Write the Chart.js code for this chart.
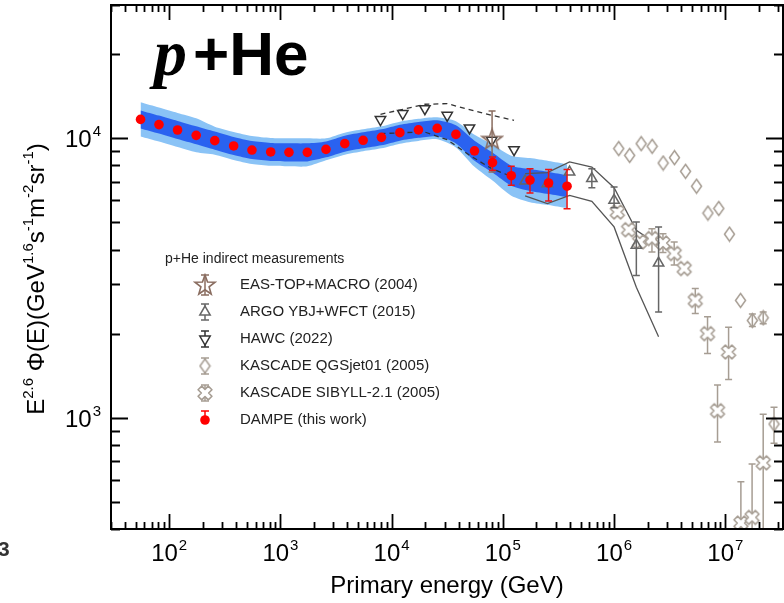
<!DOCTYPE html>
<html>
<head>
<meta charset="utf-8">
<script src="https://cdn.jsdelivr.net/npm/chart.js@4.4.1/dist/chart.umd.min.js"></script>
<style>
  html, body { margin: 0; padding: 0; background: #fff; }
  #wrap { width: 784px; height: 603px; position: relative; }
</style>
</head>
<body>
<div id="wrap"><canvas id="fluxChart"></canvas></div>
<script>
// DAMPE p+He flux (E^2.6 weighted), with statistical bars on the last bins
const dampeEnergy = [55.3, 81, 119, 175, 257, 380, 555, 818, 1194, 1746, 2570, 3792, 5546, 8097,
  11860, 17420, 25700, 37840, 55600, 80700, 119000, 175400, 257700, 377600];
const dampeFlux = [11690, 11200, 10710, 10250, 9810, 9390, 9080, 8940, 8910, 8910, 9130, 9570, 9840, 10080,
  10480, 10720, 10860, 10330, 9020, 8190, 7350, 7090, 6920, 6740];
const dampeErrLow = [null, null, null, null, null, null, null, null, null, null, null, null, null, null,
  null, null, null, null, null, 7685, 6790, 6370, 5970, 5600];
const dampeErrHigh = [null, null, null, null, null, null, null, null, null, null, null, null, null, null,
  null, null, null, null, null, 8570, 7940, 7790, 7730, 7730];

// systematic bands (inner = dark, outer = light)
const bandInnerLow = [10850, 10400, 9940, 9520, 9110, 8720, 8430, 8300, 8270, 8270, 8550, 8960, 9210, 9440,
  9810, 10040, 10170, 9590, 8310, 7540, 6770, 6480, 6320, 6160];
const bandInnerHigh = [12590, 12060, 11540, 11040, 10570, 10110, 9780, 9630, 9600, 9600, 9750, 10220, 10510, 10770,
  11190, 11450, 11600, 11130, 9800, 8890, 7980, 7760, 7580, 7380];
const bandOuterLow = [10160, 9740, 9310, 8910, 8740, 8370, 8090, 7970, 7940, 7940, 8340, 8740, 8990, 9210,
  9570, 9790, 9920, 9280, 7910, 7060, 6230, 5910, 5770, 5620];
const bandOuterHigh = [13450, 12880, 12320, 11790, 11010, 10540, 10190, 10030, 10000, 10000, 10000, 10480, 10770, 11040,
  11470, 11740, 11890, 11500, 10290, 9500, 8670, 8500, 8300, 8080];

// HAWC (2022)
const hawcEnergy = [7940, 12600, 19900, 31600, 50100, 79400, 126000];
const hawcFlux = [11670, 12260, 12770, 12090, 10890, 9840, 9110];
const hawcUpper = [12190, 12700, 13240, 13310, 12670, 12090, 11600];
const hawcLower = [10390, 10480, 10530, 9890, 8700, 7790, 7240];

// EAS-TOP+MACRO (2004)
const eastopEnergy = [80000];
const eastopFlux = [9920];
const eastopErrLow = [7580];
const eastopErrHigh = [12520];

// ARGO YBJ+WFCT (2015)
const argoEnergy = [158500, 251200, 398100, 631000, 1000000, 1585000, 2512000];
const argoFlux = [7030, 6880, 7570, 7180, 6000, 4140, 3580];
const argoErrLow = [null, null, null, 6660, 5650, 3230, 2390];
const argoErrHigh = [null, null, null, 7790, 6700, 5020, 4820];
const argoUpper = [7480, 7540, 8230, 7890, 6660, 4690, 4140];
const argoLower = [6220, 5840, 6250, 5950, 4820, 2930, 1950];

// KASCADE QGSjet01 (2005)
const qgsEnergy = [1.10e6, 1.38e6, 1.75e6, 2.20e6, 2.76e6, 3.49e6, 4.39e6, 5.51e6, 6.97e6, 8.73e6,
  1.09e7, 1.37e7, 1.75e7, 2.19e7, 2.74e7];
const qgsFlux = [9190, 8690, 9570, 9360, 8160, 8530, 7620, 6740, 5400, 5610, 4540, 2630, 2230, 2280, 950];
const qgsErrLow = [null, null, null, null, null, null, null, null, null, null, null, null, 2120, 2170, 810];
const qgsErrHigh = [null, null, null, null, null, null, null, null, null, null, null, null, 2350, 2390, 1090];

// KASCADE SIBYLL-2.1 (2005)
const sibEnergy = [1.07e6, 1.35e6, 1.70e6, 2.19e6, 2.75e6, 3.47e6, 4.27e6, 5.37e6, 6.92e6, 8.51e6,
  1.07e7, 1.38e7, 1.74e7, 2.19e7];
const sibFlux = [5450, 4710, 4260, 4380, 4220, 3870, 3420, 2630, 2000, 1060, 1720, 420, 440, 690];
const sibErrLow = [null, null, null, 3920, 3900, 3520, null, 2360, 1700, 820, 1370, 300, 300, 300];
const sibErrHigh = [null, null, null, 4750, 4560, 4260, null, 2900, 2300, 1310, 2110, 590, 684, 1030];

// axes
const X_MIN = 30, X_MAX = 3.3e7, Y_MIN = 400, Y_MAX = 3e4;
const xTickValues = [1e2, 1e3, 1e4, 1e5, 1e6, 1e7];
const xTickExps = ['2', '3', '4', '5', '6', '7'];
const yTickValues = [1e3, 1e4];
const yTickExps = ['3', '4'];

const SANS = '"Liberation Sans", Arial, Helvetica, sans-serif';
const KASCADE_COLOR = '#a69d93';

function pts(xs, ys) {
    return xs.map((x, i) => ({ x: x, y: ys[i] }));
}

// small offscreen canvases used as point styles
function makeMarker(w, h, draw) {
    const c = document.createElement('canvas');
    c.width = w;
    c.height = h;
    draw(c.getContext('2d'), w, h);
    return c;
}

function starPath(ctx, cx, cy, ro, ri) {
    ctx.beginPath();
    for (let k = 0; k < 10; k++) {
        const r = k % 2 === 0 ? ro : ri;
        const a = -Math.PI / 2 + k * Math.PI / 5;
        const px = cx + r * Math.cos(a), py = cy + r * Math.sin(a);
        if (k === 0) ctx.moveTo(px, py); else ctx.lineTo(px, py);
    }
    ctx.closePath();
}

function crossPath(ctx, cx, cy, a, L) {
    const base = [[a, -L], [a, -a], [L, -a], [L, a], [a, a], [a, L], [-a, L], [-a, a], [-L, a], [-L, -a], [-a, -a], [-a, -L]];
    const c = Math.cos(Math.PI / 4), s = Math.sin(Math.PI / 4);
    ctx.beginPath();
    base.forEach(([px, py], k) => {
        const rx = cx + px * c - py * s, ry = cy + px * s + py * c;
        if (k === 0) ctx.moveTo(rx, ry); else ctx.lineTo(rx, ry);
    });
    ctx.closePath();
}

const starMarker = makeMarker(24, 24, (ctx) => {
    starPath(ctx, 12, 12.5, 10.5, 4.3);
    ctx.strokeStyle = '#8a6d60';
    ctx.lineWidth = 1.6;
    ctx.lineJoin = 'miter';
    ctx.stroke();
});

const crossMarker = makeMarker(18, 18, (ctx) => {
    crossPath(ctx, 9, 9, 2.6, 7.2);
    ctx.fillStyle = '#fff';
    ctx.fill();
    ctx.strokeStyle = KASCADE_COLOR;
    ctx.lineWidth = 1.6;
    ctx.lineJoin = 'round';
    ctx.stroke();
});

const diamondMarker = makeMarker(13, 17, (ctx) => {
    ctx.beginPath();
    ctx.moveTo(6.5, 1.5);
    ctx.lineTo(11.5, 8.5);
    ctx.lineTo(6.5, 15.5);
    ctx.lineTo(1.5, 8.5);
    ctx.closePath();
    ctx.strokeStyle = KASCADE_COLOR;
    ctx.lineWidth = 1.5;
    ctx.stroke();
});

// vertical error bars with caps, drawn under each dataset's own markers
const errorBarPlugin = {
    id: 'errorBars',
    beforeDatasetDraw(chart, args) {
        const ds = chart.data.datasets[args.index];
        if (!ds.errLow) return;
        const { ctx, chartArea, scales } = chart;
        const cap = ds.errCap || 3.5;
        ctx.save();
        ctx.beginPath();
        ctx.rect(chartArea.left, chartArea.top, chartArea.right - chartArea.left, chartArea.bottom - chartArea.top);
        ctx.clip();
        ctx.strokeStyle = ds.errColor;
        ctx.lineWidth = ds.errWidth || 1.5;
        ds.data.forEach((p, i) => {
            const lo = ds.errLow[i], hi = ds.errHigh[i];
            if (lo == null || hi == null) return;
            const x = scales.x.getPixelForValue(p.x);
            const yl = scales.y.getPixelForValue(lo);
            const yh = scales.y.getPixelForValue(hi);
            ctx.beginPath();
            ctx.moveTo(x, yl); ctx.lineTo(x, yh);
            ctx.moveTo(x - cap, yl); ctx.lineTo(x + cap, yl);
            ctx.moveTo(x - cap, yh); ctx.lineTo(x + cap, yh);
            ctx.stroke();
        });
        ctx.restore();
    }
};

// "10" with a raised exponent
function drawPower(ctx, exp, x, y, align) {
    const big = '24px ' + SANS, small = '15px ' + SANS;
    ctx.font = big;
    const wb = ctx.measureText('10').width;
    ctx.font = small;
    const we = ctx.measureText(exp).width;
    const total = wb + 1 + we;
    const x0 = align === 'center' ? x - total / 2 : x - total;
    ctx.textAlign = 'left';
    ctx.textBaseline = 'alphabetic';
    ctx.font = big;
    ctx.fillText('10', x0, y);
    ctx.font = small;
    ctx.fillText(exp, x0 + wb + 1, y - 11);
}

function logTicks(min, max) {
    const out = [];
    for (let e = Math.floor(Math.log10(min)); e <= Math.ceil(Math.log10(max)); e++) {
        for (let m = 1; m <= 9; m++) {
            const v = m * Math.pow(10, e);
            if (v >= min * 0.999 && v <= max * 1.001) out.push({ v: v, major: m === 1 });
        }
    }
    return out;
}

// frame, inward ticks on all four sides, tick labels and axis titles
const framePlugin = {
    id: 'frame',
    afterDatasetsDraw(chart) {
        const { ctx, chartArea: a, scales } = chart;
        ctx.save();
        ctx.strokeStyle = '#000';
        ctx.lineWidth = 1.8;
        ctx.beginPath();
        logTicks(X_MIN, X_MAX).forEach(t => {
            const x = Math.round(scales.x.getPixelForValue(t.v)) + 0.5;
            const len = t.major ? 15 : 7;
            ctx.moveTo(x, a.bottom); ctx.lineTo(x, a.bottom - len);
            ctx.moveTo(x, a.top); ctx.lineTo(x, a.top + len);
        });
        logTicks(Y_MIN, Y_MAX).forEach(t => {
            const y = Math.round(scales.y.getPixelForValue(t.v)) + 0.5;
            const len = t.major ? 17 : 9;
            ctx.moveTo(a.left, y); ctx.lineTo(a.left + len, y);
            ctx.moveTo(a.right, y); ctx.lineTo(a.right - len, y);
        });
        ctx.stroke();
        ctx.lineWidth = 2;
        ctx.strokeRect(a.left, a.top, a.right - a.left, a.bottom - a.top);

        ctx.fillStyle = '#000';
        xTickValues.forEach((v, i) => drawPower(ctx, xTickExps[i], scales.x.getPixelForValue(v), 561, 'center'));
        yTickValues.forEach((v, i) => drawPower(ctx, yTickExps[i], 101, scales.y.getPixelForValue(v) + 9, 'right'));

        ctx.font = '24px ' + SANS;
        ctx.textAlign = 'center';
        ctx.textBaseline = 'alphabetic';
        ctx.fillText('Primary energy (GeV)', (a.left + a.right) / 2, 593);

        // rotated y title built from normal and superscript runs
        const runs = [
            ['E', false], ['2.6', true], [' \u03A6(E)(GeV', false], ['1.6', true], ['s', false], ['-1', true],
            ['m', false], ['-2', true], ['sr', false], ['-1', true], [')', false]
        ];
        const big = '24px ' + SANS, small = '15px ' + SANS;
        let total = 0;
        runs.forEach(([t, sup]) => { ctx.font = sup ? small : big; total += ctx.measureText(t).width; });
        ctx.translate(44, 279);
        ctx.rotate(-Math.PI / 2);
        ctx.textAlign = 'left';
        let cx = -total / 2;
        runs.forEach(([t, sup]) => {
            ctx.font = sup ? small : big;
            ctx.fillText(t, cx, sup ? -11 : 0);
            cx += ctx.measureText(t).width;
        });
        ctx.restore();
    }
};

// legend rows: label plus a marker routine with its own error bar
function legendBar(ctx, x, y, color, up, down) {
    ctx.strokeStyle = color;
    ctx.lineWidth = 1.5;
    ctx.beginPath();
    ctx.moveTo(x, y - up); ctx.lineTo(x, y + down);
    ctx.moveTo(x - 4, y - up); ctx.lineTo(x + 4, y - up);
    ctx.moveTo(x - 4, y + down); ctx.lineTo(x + 4, y + down);
    ctx.stroke();
}

function legendTriangle(ctx, x, y, r, color, down) {
    const d = down ? -1 : 1;
    ctx.beginPath();
    ctx.moveTo(x, y - d * r);
    ctx.lineTo(x + r * 0.866, y + d * r * 0.5);
    ctx.lineTo(x - r * 0.866, y + d * r * 0.5);
    ctx.closePath();
    ctx.fillStyle = '#fff';
    ctx.fill();
    ctx.strokeStyle = color;
    ctx.lineWidth = 1.5;
    ctx.stroke();
}

const legendRows = [
    { label: 'EAS-TOP+MACRO (2004)', draw: (ctx, x, y) => { legendBar(ctx, x, y, '#8a6d60', 10, 10); ctx.drawImage(starMarker, x - 12, y - 12); } },
    { label: 'ARGO YBJ+WFCT (2015)', draw: (ctx, x, y) => { legendBar(ctx, x, y, '#666', 8, 8); legendTriangle(ctx, x, y, 6, '#666', false); } },
    { label: 'HAWC (2022)', draw: (ctx, x, y) => { legendBar(ctx, x, y, '#333', 8, 8); legendTriangle(ctx, x, y, 6, '#333', true); } },
    { label: 'KASCADE QGSjet01 (2005)', draw: (ctx, x, y) => { legendBar(ctx, x, y, KASCADE_COLOR, 8, 8); ctx.fillStyle = '#fff'; ctx.fillRect(x - 4, y - 6, 8, 12); ctx.drawImage(diamondMarker, x - 6.5, y - 8.5); } },
    { label: 'KASCADE SIBYLL-2.1 (2005)', draw: (ctx, x, y) => { legendBar(ctx, x, y, KASCADE_COLOR, 8, 8); ctx.drawImage(crossMarker, x - 9, y - 9); } },
    { label: 'DAMPE (this work)', draw: (ctx, x, y) => { legendBar(ctx, x, y, '#ff0000', 9, 0); ctx.fillStyle = '#ff0000'; ctx.beginPath(); ctx.arc(x, y, 4.8, 0, Math.PI * 2); ctx.fill(); } }
];

const legendPlugin = {
    id: 'sideLegend',
    afterDraw(chart) {
        const ctx = chart.ctx;
        ctx.save();
        ctx.fillStyle = '#222';
        ctx.textAlign = 'left';
        ctx.textBaseline = 'middle';
        ctx.font = '14px ' + SANS;
        ctx.fillText('p+He indirect measurements', 165, 259);
        legendRows.forEach((row, i) => {
            const y = 285 + i * 27;
            row.draw(ctx, 205, y);
            ctx.fillStyle = '#222';
            ctx.font = '15px ' + SANS;
            ctx.textBaseline = 'middle';
            ctx.fillText(row.label, 240, y);
        });

        // panel title
        ctx.fillStyle = '#000';
        ctx.textBaseline = 'alphabetic';
        ctx.font = 'bold italic 66px "Liberation Serif", "Times New Roman", serif';
        ctx.fillText('p', 154, 75);
        ctx.font = 'bold 62px ' + SANS;
        ctx.fillText('+He', 193, 75);

        // stray panel number at the lower left
        ctx.fillStyle = '#333';
        ctx.font = 'bold 21px ' + SANS;
        ctx.fillText('3', -2, 556);
        ctx.restore();
    }
};

function initChart() {
    const ctx = document.getElementById('fluxChart').getContext('2d');

    const band = (data, color, fill, order) => ({
        data: data, borderWidth: 0, pointRadius: 0, backgroundColor: color,
        borderColor: color, fill: fill, tension: 0.25, order: order
    });
    const curve = (data, color, dash, order) => ({
        data: data, borderColor: color, borderWidth: 1.3, borderDash: dash,
        pointRadius: 0, fill: false, tension: 0, order: order
    });

    new Chart(ctx, {
        type: 'line',
        data: {
            datasets: [
                band(pts(dampeEnergy, bandOuterHigh), 'rgb(138, 195, 246)', '+1', 10),
                band(pts(dampeEnergy, bandOuterLow), 'rgb(138, 195, 246)', false, 10),
                band(pts(dampeEnergy, bandInnerHigh), 'rgb(42, 98, 240)', '+1', 9),
                band(pts(dampeEnergy, bandInnerLow), 'rgb(42, 98, 240)', false, 9),
                curve(pts(hawcEnergy, hawcUpper), '#333', [5, 4], 7),
                curve(pts(hawcEnergy, hawcLower), '#333', [5, 4], 7),
                curve(pts(argoEnergy, argoUpper), '#555', [], 7),
                curve(pts(argoEnergy, argoLower), '#555', [], 7),
                {
                    label: 'KASCADE QGSjet01 (2005)', data: pts(qgsEnergy, qgsFlux), showLine: false,
                    pointStyle: diamondMarker, pointRadius: 7, order: 6,
                    errLow: qgsErrLow, errHigh: qgsErrHigh, errColor: KASCADE_COLOR
                },
                {
                    label: 'KASCADE SIBYLL-2.1 (2005)', data: pts(sibEnergy, sibFlux), showLine: false,
                    pointStyle: crossMarker, pointRadius: 8, order: 5,
                    errLow: sibErrLow, errHigh: sibErrHigh, errColor: KASCADE_COLOR
                },
                {
                    label: 'ARGO YBJ+WFCT (2015)', data: pts(argoEnergy, argoFlux), showLine: false,
                    pointStyle: 'triangle', pointRadius: 6, borderColor: '#666', borderWidth: 1.5,
                    backgroundColor: 'rgba(0,0,0,0)', order: 4,
                    errLow: argoErrLow, errHigh: argoErrHigh, errColor: '#666'
                },
                {
                    label: 'HAWC (2022)', data: pts(hawcEnergy, hawcFlux), showLine: false,
                    pointStyle: 'triangle', pointRotation: 180, pointRadius: 6, borderColor: '#333',
                    borderWidth: 1.5, backgroundColor: 'rgba(0,0,0,0)', order: 3
                },
                {
                    label: 'EAS-TOP+MACRO (2004)', data: pts(eastopEnergy, eastopFlux), showLine: false,
                    pointStyle: starMarker, pointRadius: 12, order: 2,
                    errLow: eastopErrLow, errHigh: eastopErrHigh, errColor: '#8a6d60'
                },
                {
                    label: 'DAMPE (this work)', data: pts(dampeEnergy, dampeFlux), showLine: false,
                    pointStyle: 'circle', pointRadius: 4.8, backgroundColor: '#ff0000',
                    borderColor: '#ff0000', borderWidth: 0, order: 1,
                    errLow: dampeErrLow, errHigh: dampeErrHigh, errColor: '#ee1111'
                }
            ]
        },
        options: {
            responsive: false,
            animation: false,
            events: [],
            layout: { autoPadding: false, padding: { left: 111, right: 1, top: 5, bottom: 74 } },
            plugins: {
                legend: { display: false },
                tooltip: { enabled: false }
            },
            scales: {
                x: { type: 'logarithmic', min: X_MIN, max: X_MAX, display: false },
                y: { type: 'logarithmic', min: Y_MIN, max: Y_MAX, display: false }
            }
        },
        plugins: [errorBarPlugin, framePlugin, legendPlugin]
    });
}

document.addEventListener('DOMContentLoaded', () => {
    const canvas = document.getElementById('fluxChart');
    canvas.width = 784;
    canvas.height = 603;
    initChart();
});
</script>
</body>
</html>
